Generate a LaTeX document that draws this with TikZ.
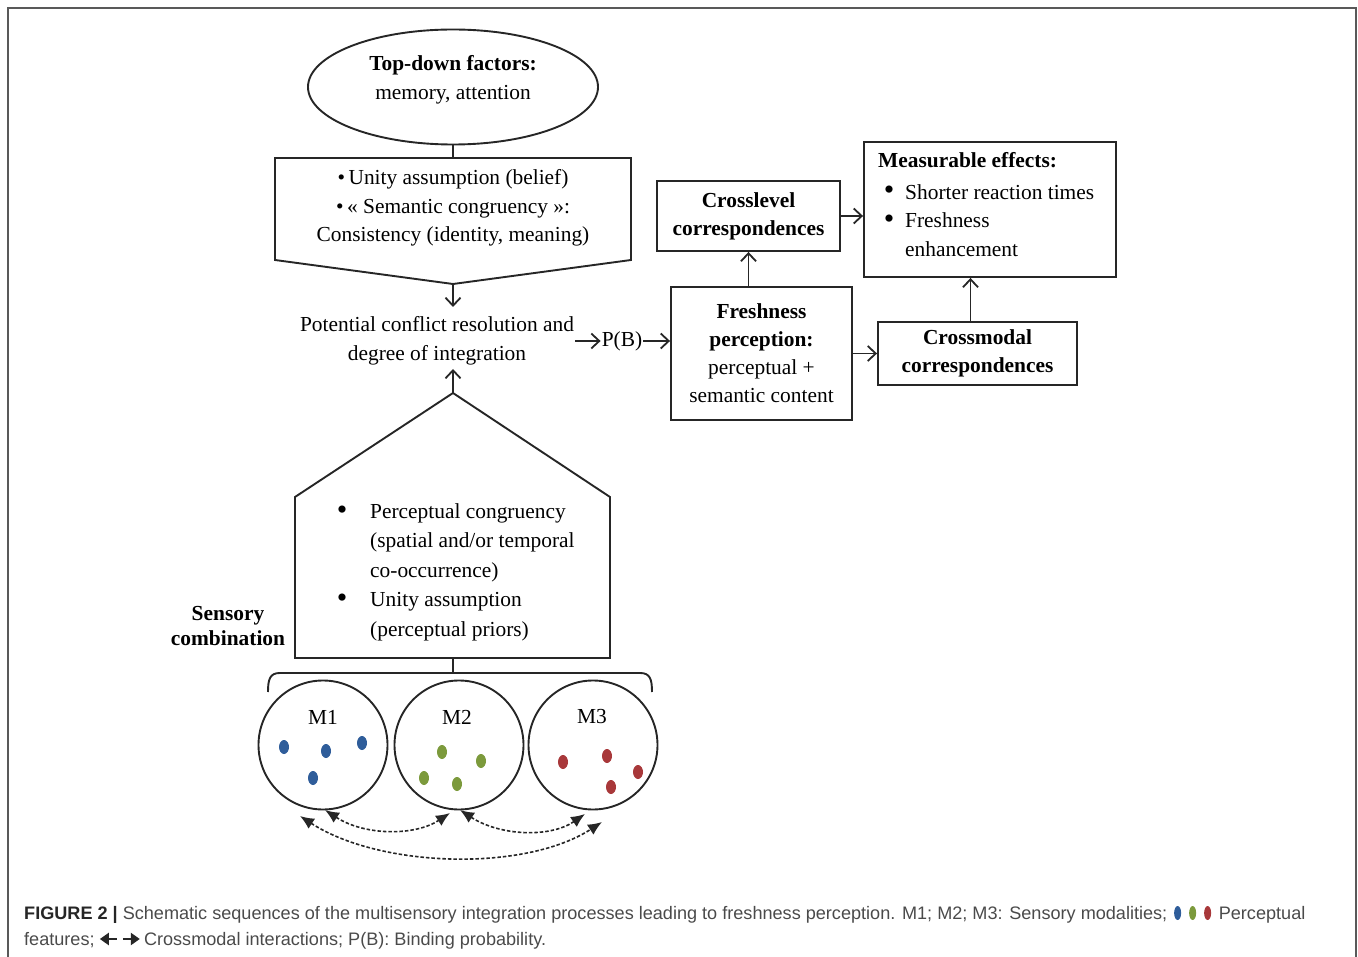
\documentclass[tikz,border=0pt]{standalone}
\usepackage{fontspec}
\setmainfont{Liberation Serif}
\newfontfamily\capfont{Liberation Sans}
\usetikzlibrary{arrows.meta,shapes.geometric}
\definecolor{dblue}{HTML}{2F5D9A}
\definecolor{dgreen}{HTML}{7C9A3C}
\definecolor{dred}{HTML}{A8383A}
\definecolor{capgray}{HTML}{4A4A4A}
\tikzset{
  ln/.style={line width=1.9pt, draw=black!85},
  boxnode/.style={draw=black!85, line width=1.9pt, rectangle, inner sep=0pt, align=center,
     font=\fontsize{21.4}{28}\selectfont},
  txt/.style={font=\fontsize{21.4}{28.5}\selectfont, align=center, inner sep=1pt},
  btxt/.style={font=\fontsize{21.4}{28}\selectfont\bfseries, align=center, inner sep=1pt},
  bul/.style={font=\fontsize{30}{30}\selectfont, inner sep=0pt},
  arr/.style={line width=1.8pt, draw=black!85, -{Straight Barb[length=8pt,width=15pt]}},
  darr/.style={line width=1.6pt, draw=black!85, dash pattern=on 3.5pt off 2pt,
     {Latex[length=14pt,width=12pt]}-{Latex[length=14pt,width=12pt]}},
  modal/.style={circle, draw=black!85, line width=1.9pt, minimum size=129pt, inner sep=0pt},
  dotb/.style={fill=dblue},
  dotg/.style={fill=dgreen},
  dotr/.style={fill=dred},
  captxt/.style={font=\capfont\fontsize{18.1}{20}\selectfont, text=capgray, inner sep=0pt, anchor=base west}
}
\begin{document}
\begin{tikzpicture}[x=1pt,y=-1pt]
\useasboundingbox (0,0) rectangle (1358,957);
% outer frame
\draw[line width=2pt, draw=black!65] (8,957) -- (8,8) -- (1356,8) -- (1356,957);

% top-down ellipse
\node[ellipse, draw=black!85, line width=1.9pt, minimum width=290pt, minimum height=115pt] (td) at (453,87) {};
\node[txt] (tdtext) at (453,80) {\textbf{Top-down factors:}\\memory, attention};

% pentagon (downward)
\coordinate (pentop) at (453,158);
\coordinate (pentip) at (453,284);
\draw[ln] (275,158) -- (631,158) -- (631,260) -- (pentip) -- (275,260) -- cycle;
\node[txt] (ua) at (453,208) {\textbullet\,Unity assumption (belief)\\\textbullet\,« Semantic congruency »:\\Consistency (identity, meaning)};
\draw[ln] (td.south) -- (pentop);

% potential conflict
\node[txt] (pc) at (437,341) {Potential conflict resolution and\\degree of integration};
\coordinate (pctop) at (453,307);
\coordinate (pcbot) at (453,369);
\draw[arr] (pentip) -- (pctop);
\node[txt] (pb) at (622,341) {P(B)};

% house
\coordinate (apex) at (453,393);
\coordinate (hbot) at (453,658);
\draw[ln] (apex) -- (610,497) -- (610,658) -- (295,658) -- (295,497) -- cycle;
\draw[arr] (apex) -- (pcbot);
\node[txt, anchor=west, align=left, font=\fontsize{21.4}{29.5}\selectfont] (pcg) at (369,572)
  {Perceptual congruency\\(spatial and/or temporal\\co-occurrence)\\Unity assumption\\(perceptual priors)};
\node[bul] (b1) at (342,513) {\textbullet};
\node[bul] (b2) at (342,601) {\textbullet};
\node[btxt, font=\fontsize{21.4}{25}\selectfont\bfseries] (sc) at (228,626) {Sensory\\combination};

% brace
\coordinate (bracemid) at (453,673);
\draw[ln] (hbot) -- (bracemid);
\draw[ln] (268,692) .. controls (268,679) and (270,673) .. (280,673) -- (640,673) .. controls (650,673) and (652,679) .. (652,692);

% modalities
\node[modal] (m1) at (323,745) {};
\node[modal] (m2) at (459,745) {};
\node[modal] (m3) at (593,745) {};
\node[txt] (m1l) at (323,717) {M1};
\node[txt] (m2l) at (457,717) {M2};
\node[txt] (m3l) at (592,717) {M3};
\fill[dotb] (284,747) ellipse [x radius=5pt, y radius=7pt];
\fill[dotb] (326,751) ellipse [x radius=5pt, y radius=7pt];
\fill[dotb] (362,743) ellipse [x radius=5pt, y radius=7pt];
\fill[dotb] (313,778) ellipse [x radius=5pt, y radius=7pt];
\fill[dotg] (442,752) ellipse [x radius=5pt, y radius=7pt];
\fill[dotg] (481,761) ellipse [x radius=5pt, y radius=7pt];
\fill[dotg] (424,778) ellipse [x radius=5pt, y radius=7pt];
\fill[dotg] (457,784) ellipse [x radius=5pt, y radius=7pt];
\fill[dotr] (563,762) ellipse [x radius=5pt, y radius=7pt];
\fill[dotr] (607,756) ellipse [x radius=5pt, y radius=7pt];
\fill[dotr] (638,772) ellipse [x radius=5pt, y radius=7pt];
\fill[dotr] (611,787) ellipse [x radius=5pt, y radius=7pt];

% dashed crossmodal arrows
\coordinate (a1) at (325,810);
\coordinate (a2) at (450,813);
\coordinate (a3) at (460,810);
\coordinate (a4) at (585,814);
\coordinate (a5) at (300,816);
\coordinate (a6) at (602,822);
\draw[darr] (a1) .. controls (365,836) and (415,836) .. (a2);
\draw[darr] (a3) .. controls (500,836) and (550,838) .. (a4);
\draw[darr] (a5) .. controls (380,868) and (525,872) .. (a6);

% right side boxes
\node[boxnode, minimum width=181pt, minimum height=133pt] (fp) at (761.5,353.5)
  {\textbf{Freshness}\\\textbf{perception:}\\perceptual +\\semantic content};
\node[boxnode, minimum width=183pt, minimum height=70pt] (cl) at (748.5,216)
  {\textbf{Crosslevel}\\\textbf{correspondences}};
\node[boxnode, minimum width=252pt, minimum height=135pt] (me) at (990,209.5) {};
\node[btxt, anchor=west] (metitle) at (877,160) {Measurable effects:};
\node[bul] (mb1) at (889,193) {\textbullet};
\node[bul] (mb2) at (889,222) {\textbullet};
\node[txt, anchor=west, align=left, font=\fontsize{21.4}{28.5}\selectfont] (mlist) at (904,220.5)
  {Shorter reaction times\\Freshness\\enhancement};
\node[boxnode, minimum width=199pt, minimum height=63pt] (cm) at (977.5,353.5)
  {\textbf{Crossmodal}\\\textbf{correspondences}};

\draw[arr] (pc.east |- pb) -- (pb.west);
\draw[arr] (pb.east) -- (fp.west |- pb);
\draw[arr] (fp.north -| cl.south) -- (cl.south);
\draw[arr] (cl.east) -- (cl.east -| me.west);
\draw[arr] (fp.east) -- (cm.west);
\draw[arr] ([xshift=-7pt]cm.north) -- ([xshift=-7pt]cm.north |- me.south);

% caption
\node[captxt] (cap1) at (24,919) {{\bfseries\color{black!85}FIGURE 2 |} Schematic sequences of the multisensory integration processes leading to freshness perception. M1; M2; M3: Sensory modalities;};
\fill[fill=dblue] ([xshift=10pt,yshift=6pt]cap1.base east) ellipse [x radius=3.5pt, y radius=7pt];
\fill[fill=dgreen] ([xshift=25pt,yshift=6pt]cap1.base east) ellipse [x radius=3.5pt, y radius=7pt];
\fill[fill=dred] ([xshift=40pt,yshift=6pt]cap1.base east) ellipse [x radius=3.5pt, y radius=7pt];
\node[captxt] (cap1b) at ([xshift=51pt]cap1.base east) {Perceptual};
\node[captxt] (cap2) at (24,945) {features;};
\coordinate (la) at ([xshift=5pt,yshift=6pt]cap2.base east);
\coordinate (lb) at ([xshift=22pt,yshift=6pt]cap2.base east);
\coordinate (ra) at ([xshift=28pt,yshift=6pt]cap2.base east);
\coordinate (rb) at ([xshift=45pt,yshift=6pt]cap2.base east);
\draw[line width=2.8pt, draw=black!85, {Triangle[length=9pt,width=12pt]}-] (la) -- (lb);
\draw[line width=2.8pt, draw=black!85, -{Triangle[length=9pt,width=12pt]}] (ra) -- (rb);
\node[captxt] (cap2b) at ([xshift=49pt]cap2.base east) {Crossmodal interactions; P(B): Binding probability.};
\end{tikzpicture}
\end{document}
